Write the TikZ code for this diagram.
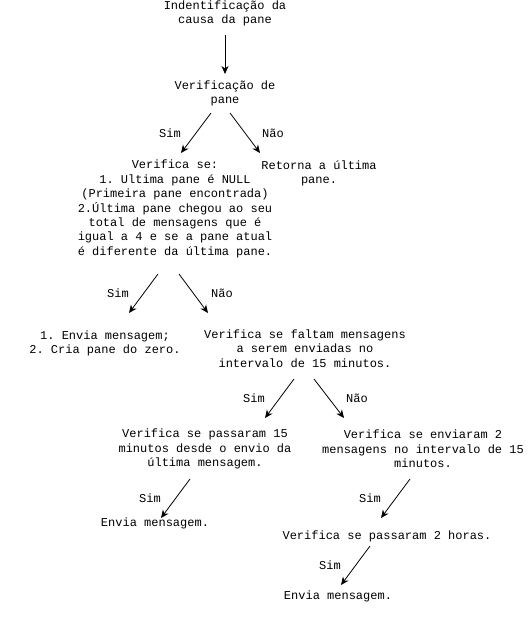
\documentclass[tikz,border=0pt]{standalone}
\usepackage{fontspec}
\setmonofont{Liberation Mono}
\usetikzlibrary{arrows.meta}
\begin{document}
\begin{tikzpicture}[x=1pt,y=-1pt,
  txt/.style={font=\ttfamily\fontsize{12}{14.4}\selectfont,align=center,inner sep=0pt},
  lbl/.style={font=\ttfamily\fontsize{12}{14.4}\selectfont,inner sep=0pt,midway},
  link/.style={line width=0.8pt,-{Stealth[length=8pt,width=7pt,inset=2.5pt]}}]
\useasboundingbox (0,0) rectangle (530,620);

% Steps
\node[txt] (causa) at (225,13.5) {Indentificação da\\causa da pane};
\node[txt] (verif) at (225,93.5) {Verificação de\\pane};
\node[txt] (condic) at (175,209) {Verifica se:\\1. Ultima pane é NULL\\(Primeira pane encontrada)\\2.Última pane chegou ao seu\\total de mensagens que é\\igual a 4 e se a pane atual\\é diferente da última pane.};
\node[txt] (retorna) at (319,173.5) {Retorna a última\\pane.};
\node[txt] (criapane) at (105,343.5) {1. Envia mensagem;\\2. Cria pane do zero.};
\node[txt] (faltam) at (305,348.5) {Verifica se faltam mensagens\\a serem enviadas no\\intervalo de 15 minutos.};
\node[txt] (passaram) at (205,449) {Verifica se passaram 15\\minutos desde o envio da\\última mensagem.};
\node[txt] (enviaram) at (423,449) {Verifica se enviaram 2\\mensagens no intervalo de 15\\minutos.};
\node[txt] (envia1) at (155,523) {Envia mensagem.};
\node[txt] (horas) at (387,536) {Verifica se passaram 2 horas.};
\node[txt] (envia2) at (338,596) {Envia mensagem.};

% Arrow ends
\coordinate (causa-out) at (225,35);
\coordinate (verif-in) at (225,74);
\coordinate (verif-sim) at (211,113);
\coordinate (condic-in) at (181,153);
\coordinate (verif-nao) at (230,113);
\coordinate (retorna-in) at (260,153);
\coordinate (condic-sim) at (158,274);
\coordinate (criapane-in) at (129,313);
\coordinate (condic-nao) at (179,274);
\coordinate (faltam-in) at (208,313);
\coordinate (faltam-sim) at (294,379);
\coordinate (passaram-in) at (265,418);
\coordinate (faltam-nao) at (314,379);
\coordinate (enviaram-in) at (344,418);
\coordinate (passaram-sim) at (190,479);
\coordinate (envia1-in) at (161,518);
\coordinate (enviaram-sim) at (410,479);
\coordinate (horas-in) at (381,518);
\coordinate (horas-sim) at (370,546);
\coordinate (envia2-in) at (341,585);

% Connections
\draw[link] (causa-out) -- (verif-in);
\draw[link] (verif-sim) -- (condic-in) node[lbl,xshift=-26pt] {Sim};
\draw[link] (verif-nao) -- (retorna-in) node[lbl,xshift=28pt] {Não};
\draw[link] (condic-sim) -- (criapane-in) node[lbl,xshift=-25.5pt] {Sim};
\draw[link] (condic-nao) -- (faltam-in) node[lbl,xshift=28.5pt] {Não};
\draw[link] (faltam-sim) -- (passaram-in) node[lbl,xshift=-25.5pt] {Sim};
\draw[link] (faltam-nao) -- (enviaram-in) node[lbl,xshift=28pt] {Não};
\draw[link] (passaram-sim) -- (envia1-in) node[lbl,xshift=-25.5pt] {Sim};
\draw[link] (enviaram-sim) -- (horas-in) node[lbl,xshift=-25.5pt] {Sim};
\draw[link] (horas-sim) -- (envia2-in) node[lbl,xshift=-25.5pt] {Sim};
\end{tikzpicture}
\end{document}
